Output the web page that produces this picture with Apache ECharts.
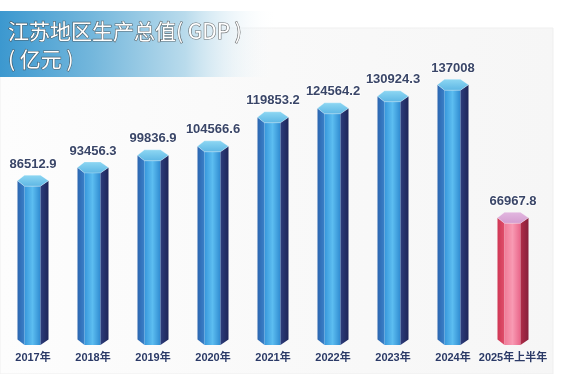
<!DOCTYPE html>
<html><head><meta charset="utf-8">
<script src="https://cdn.jsdelivr.net/npm/echarts@6/dist/echarts.min.js"></script>
<style>html,body{margin:0;padding:0;background:#fff}#c{width:565px;height:374px}</style>
</head><body><div id="c"></div>
<script>
var categories = ['2017年','2018年','2019年','2020年','2021年','2022年','2023年','2024年','2025年上半年'];
var values = [86512.9, 93456.3, 99836.9, 104566.6, 119853.2, 124564.2, 130924.3, 137008, 66967.8];
var valueLabels = ['86512.9','93456.3','99836.9','104566.6','119853.2','124564.2','130924.3','137008','66967.8'];
var titleLine1 = '江苏地区生产总值( GDP )';
var titleLine2 = '( 亿元 )';

function lg(x0,y0,x1,y1,stops){return new echarts.graphic.LinearGradient(x0,y0,x1,y1,stops.map(function(c,i){return {offset:i/(stops.length-1),color:c};}));}
var palettes = [
  {left:['#2c66b0','#3a80c8'], front:['#3797dc','#5cbdf0','#2f8ad0'], right:['#2d3d7c','#1e2558'], top:['#8fd8f3','#5db6e4']},
  {left:['#cf3654','#e04f6c'], front:['#f07b98','#f89ab3','#e9668a'], right:['#b02c48','#86203a'], top:['#e2b8e0','#d49ccf']}
];

function renderItem(params, api){
  var idx = params.dataIndex;
  var v = api.value(1);
  var top = api.coord([api.value(0), v]);
  var base = api.coord([api.value(0), 0]);
  var cx = top[0], yv = top[1], y0 = base[1];
  var bw = 31, h = 5.5;
  var xl = cx - bw/2, xli = cx - 8.5, xri = cx + 7.5, xr = cx + bw/2;
  var p = palettes[idx === values.length-1 ? 1 : 0];
  return {type:'group', children:[
    {type:'polygon', shape:{points:[[xl,yv],[xli,yv+h],[xli,y0],[xl,y0-h]]}, style:{fill:lg(0,0,1,0,p.left)}},
    {type:'polygon', shape:{points:[[xli,yv+h],[xri,yv+h],[xri,y0],[xli,y0]]}, style:{fill:lg(0,0,1,0,p.front)}},
    {type:'polygon', shape:{points:[[xri,yv+h],[xr,yv],[xr,y0-h],[xri,y0]]}, style:{fill:lg(0,0,1,0,p.right)}},
    {type:'polygon', shape:{points:[[xl,yv],[xli,yv-h],[xri,yv-h],[xr,yv],[xri,yv+h],[xli,yv+h]]}, style:{fill:lg(0,0,0,1,p.top), stroke:'rgba(255,255,255,0.35)', lineWidth:0.8}},
    {type:'text', style:{text:valueLabels[idx], x:cx, y:yv-h-11, align:'center', verticalAlign:'middle', font:'bold 13px "Liberation Sans", Arial, sans-serif', fill:'#3a4668', stroke:'rgba(255,255,255,0.8)', lineWidth:1.5}}
  ]};
}

var chart = echarts.init(document.getElementById('c'), null, {renderer:'canvas'});
chart.setOption({
  animation:false,
  backgroundColor:'#ffffff',
  grid:{left:3, right:22, top:60, bottom:29},
  xAxis:{type:'category', data:categories, axisLine:{show:false}, axisTick:{show:false},
    axisLabel:{margin:7, color:'#2b3a67', fontWeight:'bold', fontSize:11, fontFamily:'"Liberation Sans", "Noto Sans CJK SC", sans-serif', interval:0}},
  yAxis:{type:'value', min:0, max:150000, show:false, splitLine:{show:false}},
  graphic:[
    {type:'rect', z:-10, shape:{x:0,y:28,width:553,height:346}, style:{fill:lg(0,0,1,0,['#fdfdfd','#f9f9f9','#f6f6f6']), stroke:'#efefef', lineWidth:1}, silent:true},
    {type:'rect', z:-5, shape:{x:0,y:11,width:278,height:66}, style:{fill:lg(0,0,1,0,['#3c98cf','#74b7dc','#b9dbec','rgba(255,255,255,0)'])}, silent:true},
    {type:'text', z:10, style:{text:titleLine1, x:8, y:31, verticalAlign:'middle', font:'21px "Noto Sans CJK SC", sans-serif', fill:'#ffffff', stroke:'rgba(70,70,70,0.75)', lineWidth:1.2}},
    {type:'text', z:10, style:{text:titleLine2, x:8, y:59, verticalAlign:'middle', font:'21px "Noto Sans CJK SC", sans-serif', fill:'#ffffff', stroke:'rgba(70,70,70,0.75)', lineWidth:1.2}}
  ],
  series:[{type:'custom', renderItem:renderItem, data:categories.map(function(c,i){return [i, values[i]];}), encode:{x:0,y:1}}]
});
</script></body></html>
